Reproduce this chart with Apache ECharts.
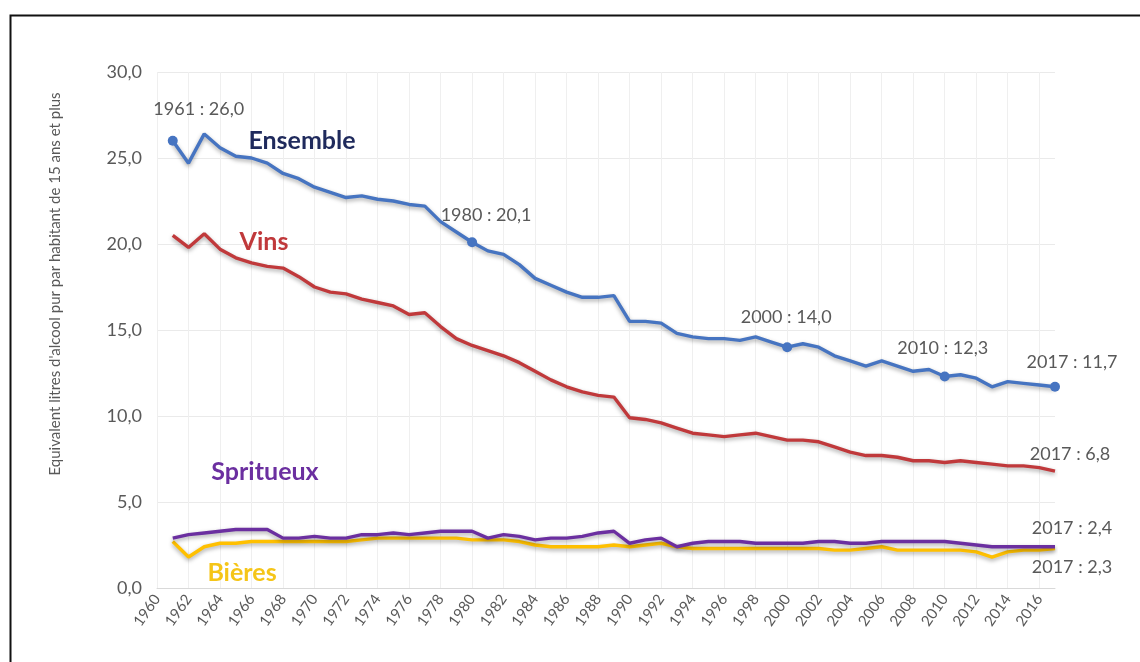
<!DOCTYPE html>
<html><head><meta charset="utf-8">
<script src="https://cdn.jsdelivr.net/npm/echarts@6/dist/echarts.min.js"></script>
<style>html,body{margin:0;padding:0;background:#fff}#c{width:1140px;height:662px}</style>
</head><body><div id="c"></div>
<script>
// Categories (1960 has no data; series start in 1961)
const years = [1960,1961,1962,1963,1964,1965,1966,1967,1968,1969,1970,1971,1972,1973,1974,1975,1976,1977,1978,1979,
  1980,1981,1982,1983,1984,1985,1986,1987,1988,1989,1990,1991,1992,1993,1994,1995,1996,1997,1998,1999,
  2000,2001,2002,2003,2004,2005,2006,2007,2008,2009,2010,2011,2012,2013,2014,2015,2016,2017];

// Values 1961..2017
const ensemble = [26.0,24.7,26.4,25.6,25.1,25.0,24.7,24.1,23.8,23.3,23.0,22.7,22.8,22.6,22.5,22.3,22.2,21.3,20.7,
  20.1,19.6,19.4,18.8,18.0,17.6,17.2,16.9,16.9,17.0,15.5,15.5,15.4,14.8,14.6,14.5,14.5,14.4,14.6,14.3,
  14.0,14.2,14.0,13.5,13.2,12.9,13.2,12.9,12.6,12.7,12.3,12.4,12.2,11.7,12.0,11.9,11.8,11.7];
const vins = [20.5,19.8,20.6,19.7,19.2,18.9,18.7,18.6,18.1,17.5,17.2,17.1,16.8,16.6,16.4,15.9,16.0,15.2,14.5,
  14.1,13.8,13.5,13.1,12.6,12.1,11.7,11.4,11.2,11.1,9.9,9.8,9.6,9.3,9.0,8.9,8.8,8.9,9.0,8.8,
  8.6,8.6,8.5,8.2,7.9,7.7,7.7,7.6,7.4,7.4,7.3,7.4,7.3,7.2,7.1,7.1,7.0,6.8];
const spiritueux = [2.9,3.1,3.2,3.3,3.4,3.4,3.4,2.9,2.9,3.0,2.9,2.9,3.1,3.1,3.2,3.1,3.2,3.3,3.3,
  3.3,2.9,3.1,3.0,2.8,2.9,2.9,3.0,3.2,3.3,2.6,2.8,2.9,2.4,2.6,2.7,2.7,2.7,2.6,2.6,
  2.6,2.6,2.7,2.7,2.6,2.6,2.7,2.7,2.7,2.7,2.7,2.6,2.5,2.4,2.4,2.4,2.4,2.4];
const bieres = [2.7,1.8,2.4,2.6,2.6,2.7,2.7,2.7,2.7,2.7,2.7,2.7,2.8,2.9,2.9,2.9,2.9,2.9,2.9,
  2.8,2.8,2.8,2.7,2.5,2.4,2.4,2.4,2.4,2.5,2.4,2.5,2.6,2.4,2.3,2.3,2.3,2.3,2.3,2.3,
  2.3,2.3,2.3,2.2,2.2,2.3,2.4,2.2,2.2,2.2,2.2,2.2,2.1,1.8,2.1,2.2,2.2,2.3];

const yTicks = [0,5,10,15,20,25,30];
const yAxisTitle = "Equivalent litres d'alcool pur par habitant de 15 ans et plus";

const fmt = v => v.toFixed(1).replace('.', ',');
const FONT = 'Lato';
const GRAY = '#595959';

function build(vals, marks, symSize) {
  const out = ['-'];
  vals.forEach((v, i) => {
    const yr = years[i + 1];
    const m = marks[yr];
    if (m) {
      out.push({
        value: v, symbol: 'circle', symbolSize: symSize,
        label: { show: true, position: 'inside', offset: m, formatter: yr + ' : ' + fmt(v),
          color: GRAY, fontFamily: FONT, fontSize: 18 }
      });
    } else out.push({ value: v, symbol: 'none' });
  });
  return out;
}

const shadow = { shadowColor: 'rgba(0,0,0,0.35)', shadowBlur: 4, shadowOffsetY: 2 };
function lineSeries(name, color, data) {
  return {
    name, type: 'line', data, showSymbol: true, showAllSymbol: true,
    lineStyle: Object.assign({ color, width: 3.4 }, shadow),
    itemStyle: { color }, z: 3, animation: false, emphasis: { disabled: true }
  };
}

const chart = echarts.init(document.getElementById('c'));
chart.setOption({
  animation: false,
  grid: { left: 157, right: 85, top: 72, bottom: 74 },
  xAxis: {
    type: 'category', data: years.map(String), boundaryGap: false,
    axisLine: { lineStyle: { color: '#d9d9d9' } },
    axisTick: { show: false },
    axisLabel: { interval: 1, rotate: 55, color: GRAY, fontFamily: FONT, fontSize: 15, margin: 8 },
    splitLine: { show: true, interval: 1, lineStyle: { color: '#efefef' } }
  },
  yAxis: {
    type: 'value', min: yTicks[0], max: yTicks[yTicks.length - 1], interval: 5,
    axisLine: { show: false }, axisTick: { show: false },
    axisLabel: { formatter: v => fmt(v), color: GRAY, fontFamily: FONT, fontSize: 18, margin: 15 },
    splitLine: { lineStyle: { color: '#eaeaea' } }
  },
  series: [
    lineSeries('Bières', '#FFC000', build(bieres, { 2017: [17, 19] }, 0.1)),
    lineSeries('Spiritueux', '#6B2FA0', build(spiritueux, { 2017: [17, -19] }, 0.1)),
    lineSeries('Vins', '#C0393B', build(vins, { 2017: [15, -17] }, 0.1)),
    lineSeries('Ensemble', '#4674C1', build(ensemble, {
      1961: [26, -32], 1980: [14, -27], 2000: [-1, -30], 2010: [-2, -28], 2017: [17, -25]
    }, 10))
  ],
  graphic: [
    { type: 'rect', left: 8, top: 13, shape: { width: 1200, height: 720 },
      style: { fill: 'none', stroke: '#111', lineWidth: 2 }, silent: true },
    { type: 'text', x: 55, y: 284, rotation: Math.PI / 2,
      style: { text: yAxisTitle, fill: GRAY, font: '15px ' + FONT, textAlign: 'center', textVerticalAlign: 'middle' } },
    { type: 'text', z: 100, x: 302, y: 141, style: { text: 'Ensemble', fill: '#1F2A5C', font: 'bold 25px ' + FONT, textAlign: 'center', textVerticalAlign: 'middle' } },
    { type: 'text', z: 100, x: 264, y: 242, style: { text: 'Vins', fill: '#C0393B', font: 'bold 25px ' + FONT, textAlign: 'center', textVerticalAlign: 'middle' } },
    { type: 'text', z: 100, x: 265, y: 472, style: { text: 'Spritueux', fill: '#6B2FA0', font: 'bold 25px ' + FONT, textAlign: 'center', textVerticalAlign: 'middle' } },
    { type: 'text', z: 100, x: 242, y: 573, style: { text: 'Bières', fill: '#F5C518', font: 'bold 25px ' + FONT, textAlign: 'center', textVerticalAlign: 'middle' } }
  ]
});
</script></body></html>
